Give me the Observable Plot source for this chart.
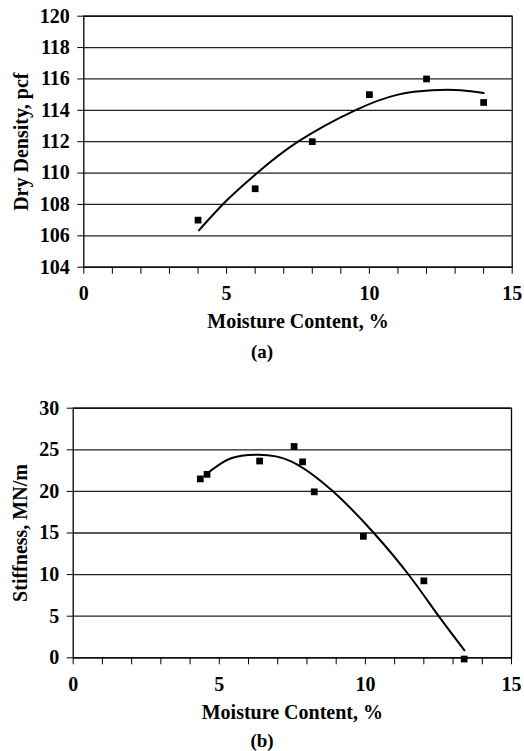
<!DOCTYPE html>
<html><head><meta charset="utf-8">
<script src="https://cdn.jsdelivr.net/npm/d3@7"></script>
<script src="https://cdn.jsdelivr.net/npm/@observablehq/plot@0.6"></script>
<style>
body{margin:0;background:#fff;overflow:hidden;}
#wrap{position:relative;width:524px;height:751px;font-family:"Liberation Serif","Times New Roman",serif;font-weight:bold;color:#000;}
.chart{position:absolute;left:0;}
.cap{position:absolute;left:0;width:524px;text-align:center;font-size:19px;line-height:18px;}
g[aria-label="x-axis label"] text, g[aria-label="y-axis label"] text{font-size:20px;}
</style></head><body><div id="wrap"><div id="ca" class="chart" style="top:0"></div><div class="cap" style="top:343px">(a)</div><div id="cb" class="chart" style="top:380px"></div><div class="cap" style="top:732px">(b)</div></div>
<script>
// Chart (a): dry density vs moisture content
const moistureA = [4, 6, 8, 10, 12, 14];
const densityA = [107, 109, 112, 115, 116, 114.5];
const fitMoistureA = [4.03, 5, 6, 7.5, 9.5, 11, 12.2, 13.2, 14.0];
const fitDensityA = [106.35, 108.25, 109.9, 112.0, 114.0, 115.0, 115.28, 115.28, 115.1];
const yTicksA = [104, 106, 108, 110, 112, 114, 116, 118, 120];

// Chart (b): stiffness vs moisture content
const moistureB = [4.35, 4.58, 6.38, 7.56, 7.85, 8.25, 9.93, 12.0, 13.38];
const stiffnessB = [21.5, 22.05, 23.65, 25.4, 23.55, 19.95, 14.6, 9.25, -0.15];
const fitMoistureB = [4.55, 5.38, 6.35, 7.44, 8.86, 10.29, 11.52, 12.51, 13.39];
const fitStiffnessB = [22.05, 23.95, 24.42, 23.65, 20.1, 15.0, 9.8, 5.0, 0.9];
const yTicksB = [0, 5, 10, 15, 20, 25, 30];

const xMinorTicks = [0, 1, 2, 3, 4, 5, 6, 7, 8, 9, 10, 11, 12, 13, 14, 15];
const xTickLabels = [0, 5, 10, 15];
const xTitle = "Moisture Content, %";

function makeChart(o) {
  const pts = o.xs.map((x, i) => ({x, y: o.ys[i]}));
  const fit = o.fx.map((x, i) => ({x, y: o.fy[i]}));
  return Plot.plot({
    width: 524,
    height: o.height,
    marginTop: o.mt, marginBottom: o.mb, marginLeft: o.ml, marginRight: o.mr,
    style: {fontFamily: '"Liberation Serif","Times New Roman",serif', fontWeight: "bold", fontSize: "20px", color: "#000", background: "#fff", overflow: "visible"},
    x: {domain: [0, 15]},
    y: {domain: o.yDomain},
    marks: [
      Plot.gridY(o.yTicks, {stroke: "#222", strokeOpacity: 1, strokeWidth: 1.3}),
      Plot.frame({stroke: "#000", strokeWidth: 1.3}),
      Plot.axisY(o.yTicks, {tickSize: 6, tickPadding: 8, stroke: "#000", label: o.ylabel, labelAnchor: "center", labelOffset: o.ylo, labelArrow: "none"}),
      Plot.axisX(xMinorTicks, {tickSize: 7, tickPadding: 12, stroke: "#000", tickFormat: d => xTickLabels.includes(d) ? String(d) : "", label: xTitle, labelAnchor: "center", labelOffset: o.xlo, labelArrow: "none"}),
      Plot.line(fit, {x: "x", y: "y", curve: "natural", stroke: "#000", strokeWidth: 2}),
      Plot.dot(pts, {x: "x", y: "y", symbol: "square", r: 3.8, fill: "#000", stroke: "none"})
    ]
  });
}

document.getElementById("ca").append(makeChart({
  xs: moistureA, ys: densityA, fx: fitMoistureA, fy: fitDensityA,
  yTicks: yTicksA, yDomain: [104, 120], ylabel: "Dry Density, pcf",
  height: 340, mt: 15.7, mb: 73.3, ml: 83.3, mr: 12.3, ylo: 70, xlo: 61
}));
document.getElementById("cb").append(makeChart({
  xs: moistureB, ys: stiffnessB, fx: fitMoistureB, fy: fitStiffnessB,
  yTicks: yTicksB, yDomain: [0, 30], ylabel: "Stiffness, MN/m",
  height: 345, mt: 27.7, mb: 67.7, ml: 72.7, mr: 13, ylo: 60, xlo: 61
}));
</script></body></html>
